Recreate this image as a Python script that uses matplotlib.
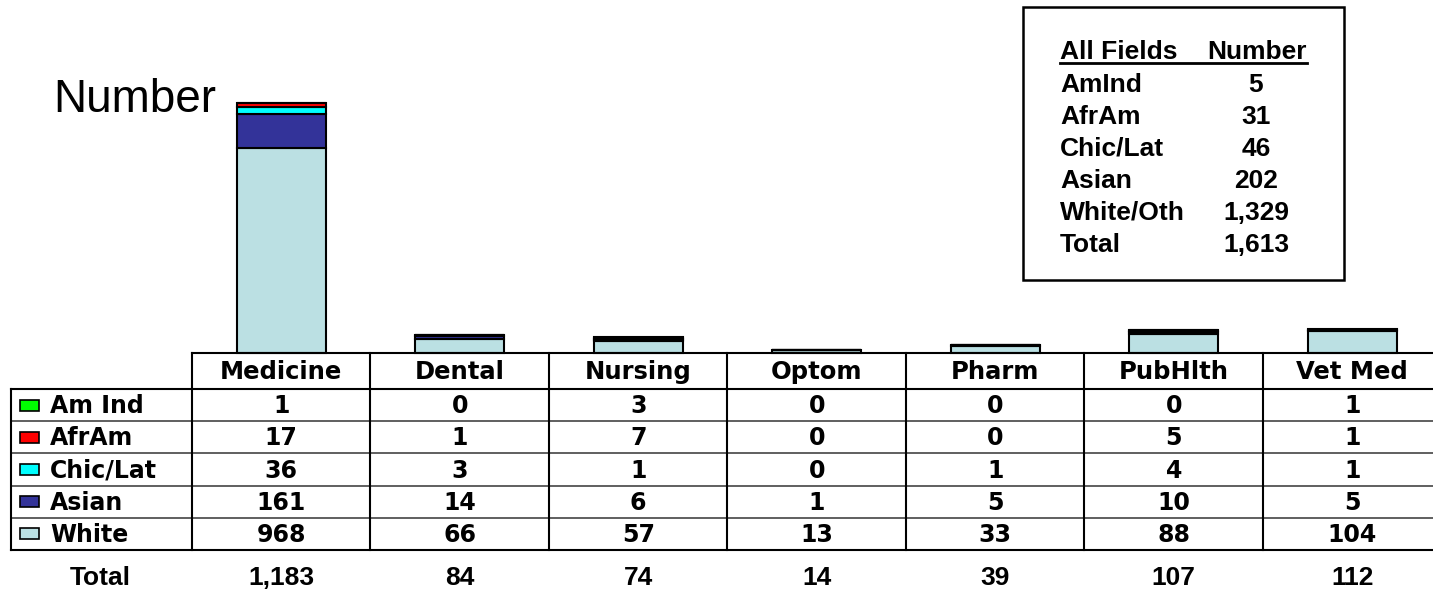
import os
import matplotlib.pyplot as plt
from matplotlib.patches import Rectangle
from matplotlib import font_manager

fields = ['Medicine', 'Dental', 'Nursing', 'Optom', 'Pharm', 'PubHlth', 'Vet Med']
groups = ['Am Ind', 'AfrAm', 'Chic/Lat', 'Asian', 'White']
amind = [1, 0, 3, 0, 0, 0, 1]
afram = [17, 1, 7, 0, 0, 5, 1]
chiclat = [36, 3, 1, 0, 1, 4, 1]
asian = [161, 14, 6, 1, 5, 10, 5]
white = [968, 66, 57, 13, 33, 88, 104]
totals = ['1,183', '84', '74', '14', '39', '107', '112']

summary_labels = ['AmInd', 'AfrAm', 'Chic/Lat', 'Asian', 'White/Oth', 'Total']
summary_values = ['5', '31', '46', '202', '1,329', '1,613']

colors = {'Am Ind': '#00FF00', 'AfrAm': '#FF0000', 'Chic/Lat': '#00FFFF',
          'Asian': '#333399', 'White': '#BBE0E3'}
rows = {'Am Ind': amind, 'AfrAm': afram, 'Chic/Lat': chiclat, 'Asian': asian, 'White': white}

# plain Liberation Sans Bold, not the narrow cut
bold_file = None
for f in font_manager.fontManager.ttflist:
    if os.path.basename(f.fname).lower() == 'liberationsans-bold.ttf':
        bold_file = f.fname
        break
if bold_file:
    arial_b = font_manager.FontProperties(fname=bold_file, size=19)
else:
    arial_b = font_manager.FontProperties(family='Noto Sans', weight='bold', size=18)

W, H = 1433, 594
fig = plt.figure(figsize=(W/100, H/100), dpi=100)

x0 = 192.0
col_w = 178.5
base_y = 353.0
top_y = 53.0
ax = fig.add_axes([x0/W, (H-base_y)/H, col_w*7/W, (base_y-top_y)/H])
ax.set_xlim(-0.5, 6.5)
ax.set_ylim(0, 1183*(base_y-top_y)/250.0)
ax.axis('off')

bottom = [0]*7
for g in ['White', 'Asian', 'Chic/Lat', 'AfrAm', 'Am Ind']:
    vals = rows[g]
    ax.bar(range(7), vals, 0.5, bottom=bottom, color=colors[g],
           edgecolor='black', linewidth=1.5, clip_on=False)
    bottom = [b+v for b, v in zip(bottom, vals)]

# overlay in pixel coords for the table and text
ov = fig.add_axes([0, 0, 1, 1])
ov.set_xlim(0, W)
ov.set_ylim(H, 0)
ov.axis('off')
ov.patch.set_alpha(0)

wide = 'DejaVu Sans'

hdr_bot = 389.0
row_h = (550.0 - hdr_bot)/5
xr = x0 + col_w*7
ov.plot([x0, xr], [base_y, base_y], color='black', lw=1.5)
ov.plot([11, xr], [hdr_bot, hdr_bot], color='black', lw=1.5)
for i in range(1, 5):
    y = hdr_bot + i*row_h
    ov.plot([11, xr], [y, y], color='#444444', lw=1.2)
ov.plot([11, xr], [550, 550], color='black', lw=1.5)
ov.plot([11, 11], [hdr_bot, 550], color='black', lw=1.5)
for j in range(7):
    x = x0 + j*col_w
    ov.plot([x, x], [base_y, 550], color='black', lw=1.5)

for j, f in enumerate(fields):
    cx = x0 + (j+0.5)*col_w
    ov.text(cx, (base_y+hdr_bot)/2 + 1, f, ha='center', va='center',
            family=wide, weight='bold', fontsize=17.5)
    ov.text(cx, 578, totals[j], ha='center', va='center', fontproperties=arial_b)

for i, g in enumerate(groups):
    cy = hdr_bot + (i+0.5)*row_h
    ov.add_patch(Rectangle((20, cy-5.5), 19, 11, facecolor=colors[g],
                           edgecolor='black', lw=1.2))
    ov.text(50, cy+1, g, ha='left', va='center', family=wide,
            weight='bold', fontsize=17)
    for j in range(7):
        cx = x0 + (j+0.5)*col_w
        ov.text(cx, cy+1, str(rows[g][j]), ha='center', va='center',
                family=wide, weight='bold', fontsize=17)

ov.text(100, 578, 'Total', ha='center', va='center', fontproperties=arial_b)

ov.text(53, 112, 'Number', ha='left', va='baseline', family='Liberation Sans', fontsize=33)

# summary box
ov.add_patch(Rectangle((1023, 7), 321, 273, facecolor='white',
                       edgecolor='black', lw=1.8))
ov.text(1060, 59, 'All Fields', ha='left', va='baseline', fontproperties=arial_b)
ov.text(1307, 59, 'Number', ha='right', va='baseline', fontproperties=arial_b)
ov.plot([1060, 1307], [62.5, 62.5], color='black', lw=2)
for i, (lab, v) in enumerate(zip(summary_labels, summary_values)):
    y = 92 + i*32
    ov.text(1060, y, lab, ha='left', va='baseline', fontproperties=arial_b)
    ov.text(1256, y, v, ha='center', va='baseline', fontproperties=arial_b)

fig.savefig('out.png', dpi=100)
